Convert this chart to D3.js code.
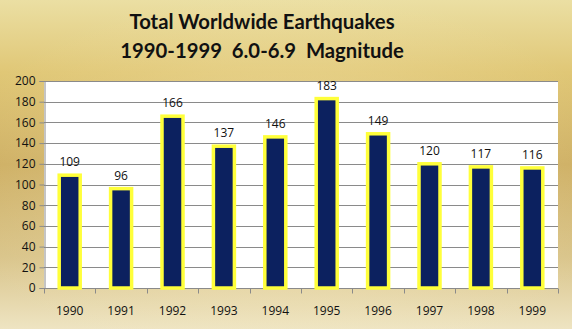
<!DOCTYPE html>
<html>
<head>
<meta charset="utf-8">
<script src="https://cdn.jsdelivr.net/npm/d3@7/dist/d3.min.js"></script>
<style>
  html, body { margin: 0; padding: 0; background: #fff; }
  svg { display: block; }
</style>
</head>
<body>
<div id="chart"></div>
<script>
// Magnitude 6.0–6.9 earthquakes recorded worldwide, per year
const years = ["1990", "1991", "1992", "1993", "1994", "1995", "1996", "1997", "1998", "1999"];
const counts = [109, 96, 166, 137, 146, 183, 149, 120, 117, 116];
const yTicks = [0, 20, 40, 60, 80, 100, 120, 140, 160, 180, 200];
const titleLines = ["Total Worldwide Earthquakes", "1990-1999  6.0-6.9  Magnitude"];

const W = 572, H = 329;
const plot = { left: 44, right: 558, top: 81, bottom: 288 };

const svg = d3.select("#chart").append("svg")
  .attr("width", W).attr("height", H);

const defs = svg.append("defs");
const bg = defs.append("linearGradient").attr("id", "gold")
  .attr("x1", 0).attr("y1", 0).attr("x2", 0).attr("y2", 1);
[[0, "#ebdfa3"], [0.22, "#e0c776"], [0.5, "#cdae62"], [0.78, "#d9c48a"], [1, "#eee4c2"]]
  .forEach(([o, c]) => bg.append("stop").attr("offset", o).attr("stop-color", c));

const glow = defs.append("radialGradient").attr("id", "glow")
  .attr("cx", 0.5).attr("cy", 0.55).attr("r", 0.6);
glow.append("stop").attr("offset", 0).attr("stop-color", "#fff3c8").attr("stop-opacity", 0.45);
glow.append("stop").attr("offset", 0.7).attr("stop-color", "#fff3c8").attr("stop-opacity", 0.1);
glow.append("stop").attr("offset", 1).attr("stop-color", "#fff3c8").attr("stop-opacity", 0);

svg.append("rect").attr("width", W).attr("height", H).attr("fill", "url(#gold)");
svg.append("rect").attr("width", W).attr("height", H).attr("fill", "url(#glow)");

// Title
svg.append("g").selectAll("text").data(titleLines).join("text")
  .attr("x", 262).attr("y", (d, i) => 29 + i * 29)
  .attr("text-anchor", "middle")
  .attr("font-family", "Lato, 'Open Sans', sans-serif")
  .attr("font-weight", "bold")
  .attr("font-size", 20.3)
  .attr("fill", "#111")
  .style("white-space", "pre")
  .attr("xml:space", "preserve")
  .text(d => d);

const x = d3.scaleBand().domain(years).range([plot.left, plot.right]);
const y = d3.scaleLinear().domain([0, 200]).range([plot.bottom, plot.top]);

// Plot area
svg.append("rect")
  .attr("x", plot.left).attr("y", plot.top)
  .attr("width", plot.right - plot.left).attr("height", plot.bottom - plot.top)
  .attr("fill", "#ffffff");

// Horizontal gridlines
svg.append("g").selectAll("line").data(yTicks.filter(t => t > 0)).join("line")
  .attr("x1", plot.left).attr("x2", plot.right)
  .attr("y1", d => Math.round(y(d)) + 0.5).attr("y2", d => Math.round(y(d)) + 0.5)
  .attr("stroke", "#8a8a8a").attr("stroke-width", 1);

// Y axis
const yAxis = svg.append("g")
  .attr("transform", `translate(${plot.left + 0.5},0)`)
  .call(d3.axisLeft(y).tickValues(yTicks).tickSize(5).tickPadding(4));
yAxis.select(".domain").attr("stroke", "#8a8a8a");
yAxis.selectAll(".tick line").attr("stroke", "#8a8a8a");
yAxis.selectAll("text")
  .attr("font-family", "'Open Sans', sans-serif").attr("font-size", 12).attr("fill", "#111");

// X axis with ticks between categories
const xAxisG = svg.append("g").attr("transform", `translate(0,${plot.bottom + 0.5})`);
xAxisG.append("line")
  .attr("x1", plot.left).attr("x2", plot.right)
  .attr("stroke", "#8a8a8a");
xAxisG.selectAll("line.tk").data(d3.range(years.length + 1)).join("line")
  .attr("class", "tk")
  .attr("x1", i => Math.round(plot.left + i * x.step()) + 0.5)
  .attr("x2", i => Math.round(plot.left + i * x.step()) + 0.5)
  .attr("y1", 0).attr("y2", 5)
  .attr("stroke", "#8a8a8a");
xAxisG.selectAll("text").data(years).join("text")
  .attr("x", d => x(d) + x.bandwidth() / 2)
  .attr("y", 26)
  .attr("text-anchor", "middle")
  .attr("font-family", "'Open Sans', sans-serif").attr("font-size", 12).attr("fill", "#111")
  .text(d => d);

// Bars
const barW = 21;
svg.append("g").selectAll("rect").data(years).join("rect")
  .attr("x", d => x(d) + x.bandwidth() / 2 - barW / 2)
  .attr("y", (d, i) => y(counts[i]))
  .attr("width", barW)
  .attr("height", (d, i) => y(0) - y(counts[i]))
  .attr("fill", "#0c215f")
  .attr("stroke", "#ffff3a")
  .attr("stroke-width", 3.5);

// Value labels
svg.append("g").selectAll("text").data(years).join("text")
  .attr("x", d => x(d) + x.bandwidth() / 2)
  .attr("y", (d, i) => y(counts[i]) - 9)
  .attr("text-anchor", "middle")
  .attr("font-family", "'Open Sans', sans-serif").attr("font-size", 12).attr("fill", "#111")
  .text((d, i) => counts[i]);
</script>
</body>
</html>
